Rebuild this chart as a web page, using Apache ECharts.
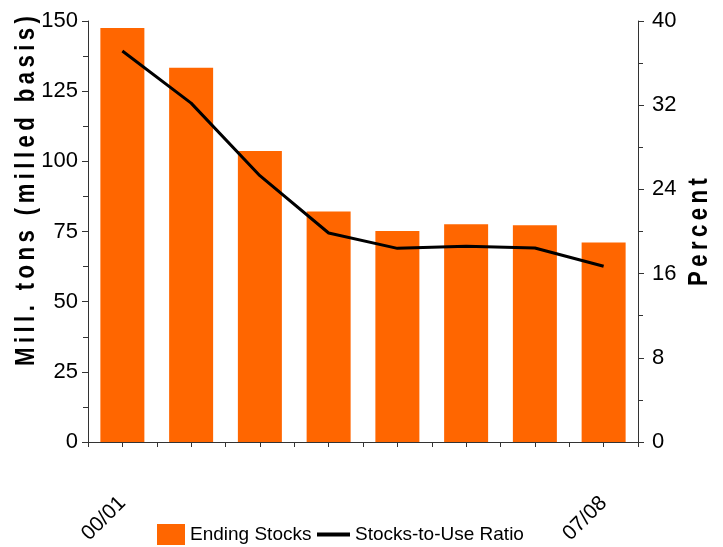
<!DOCTYPE html>
<html>
<head>
<meta charset="utf-8">
<script src="https://cdn.jsdelivr.net/npm/echarts@6/dist/echarts.min.js"></script>
<style>
html,body{margin:0;padding:0;background:#fff;}
#chart{width:723px;height:547px;}
</style>
</head>
<body>
<div id="chart"></div>
<script>
const categories = ['00/01','01/02','02/03','03/04','04/05','05/06','06/07','07/08'];
const endingStocks = [147.5, 133.3, 103.7, 82.1, 75.2, 77.6, 77.2, 71.1];
const stocksToUse = [37.15, 32.2, 25.3, 19.86, 18.4, 18.6, 18.43, 16.7];
const leftTitle = 'Mill. tons (milled basis)';
const rightTitle = 'Percent';
const halfSlots = categories.flatMap(() => ['', '']);

const FONT = "'Liberation Sans', Arial, sans-serif";
const spaced = s => s.split('').join('\u2009');

const chart = echarts.init(document.getElementById('chart'));
chart.setOption({
  animation: false,
  backgroundColor: '#fff',
  textStyle: { fontFamily: FONT, color: '#000' },
  grid: { left: 88, right: 85, top: 21, bottom: 105, containLabel: false },
  legend: [
    {
      left: 152, top: 519,
      itemWidth: 28, itemHeight: 21,
      textStyle: { fontFamily: FONT, fontSize: 19, color: '#000' },
      data: [{ name: 'Ending Stocks', icon: 'rect' }]
    },
    {
      left: 312, top: 520,
      itemWidth: 33, itemHeight: 4,
      textStyle: { fontFamily: FONT, fontSize: 19, color: '#000' },
      data: [{ name: 'Stocks-to-Use Ratio', icon: 'rect' }]
    }
  ],
  xAxis: [
    {
      type: 'category', data: categories, boundaryGap: true,
      axisLine: { lineStyle: { color: '#333', width: 1 } },
      axisTick: { show: false },
      axisLabel: { interval: 6, rotate: 45, margin: 58, fontSize: 21, color: '#000', fontFamily: FONT }
    },
    {
      type: 'category', data: halfSlots, boundaryGap: true, position: 'bottom',
      axisLine: { show: false },
      axisTick: { show: true, length: 5, lineStyle: { color: '#333' } },
      axisLabel: { show: false }
    }
  ],
  yAxis: [
    {
      type: 'value', min: 0, max: 150, interval: 25,
      axisLine: { show: true, lineStyle: { color: '#333' } },
      axisTick: { show: true, length: 6, lineStyle: { color: '#333' } },
      minorTick: { show: true, splitNumber: 2, length: 5, lineStyle: { color: '#333' } },
      splitLine: { show: false },
      axisLabel: { fontSize: 22, color: '#000', margin: 10, fontFamily: FONT }
    },
    {
      type: 'value', min: 0, max: 40, interval: 8, position: 'right',
      axisLine: { show: true, lineStyle: { color: '#333' } },
      axisTick: { show: true, length: 6, lineStyle: { color: '#333' } },
      minorTick: { show: true, splitNumber: 2, length: 5, lineStyle: { color: '#333' } },
      splitLine: { show: false },
      axisLabel: { fontSize: 22, color: '#000', margin: 14, fontFamily: FONT }
    }
  ],
  graphic: [
    {
      type: 'text', x: 27, y: 191, rotation: Math.PI / 2, scaleX: 0.82,
      style: { text: spaced(leftTitle), font: 'bold 27px ' + FONT, fill: '#000', align: 'center', verticalAlign: 'middle' }
    },
    {
      type: 'text', x: 700, y: 232, rotation: Math.PI / 2, scaleX: 0.82,
      style: { text: spaced(rightTitle), font: 'bold 27px ' + FONT, fill: '#000', align: 'center', verticalAlign: 'middle' }
    }
  ],
  series: [
    {
      name: 'Ending Stocks', type: 'bar', xAxisIndex: 0, yAxisIndex: 0,
      data: endingStocks, barWidth: '64%',
      itemStyle: { color: '#FF6600' }
    },
    {
      name: 'Stocks-to-Use Ratio', type: 'line', xAxisIndex: 0, yAxisIndex: 1,
      data: stocksToUse, symbol: 'none',
      lineStyle: { color: '#000', width: 3 }, itemStyle: { color: '#000' }
    }
  ]
});
</script>
</body>
</html>
